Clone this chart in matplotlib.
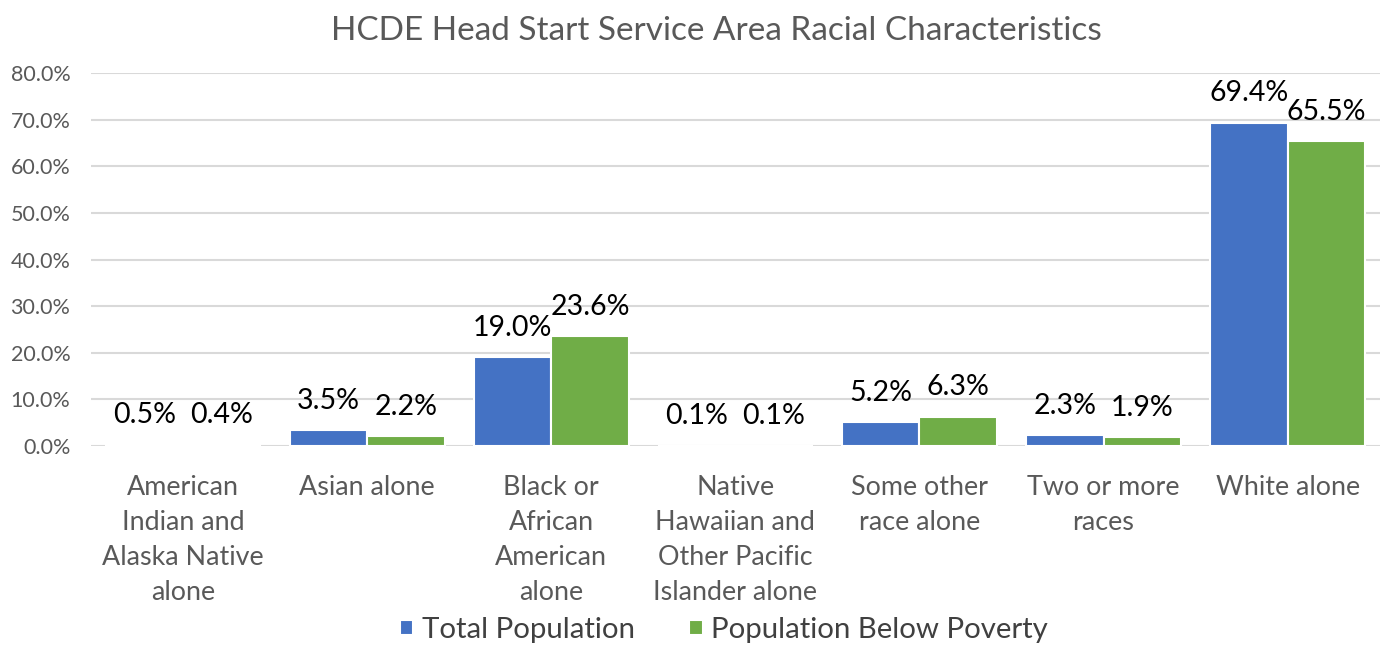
import numpy as np
import matplotlib.pyplot as plt

plt.rcParams['font.family'] = ['Lato', 'DejaVu Sans']

categories = ['American\nIndian and\nAlaska Native\nalone', 'Asian alone',
              'Black or\nAfrican\nAmerican\nalone',
              'Native\nHawaiian and\nOther Pacific\nIslander alone',
              'Some other\nrace alone', 'Two or more\nraces', 'White alone']
total_pop = [0.5, 3.5, 19.0, 0.1, 5.2, 2.3, 69.4]
below_pov = [0.4, 2.2, 23.6, 0.1, 6.3, 1.9, 65.5]
series_names = ['Total Population', 'Population Below Poverty']
yticks = [0, 10, 20, 30, 40, 50, 60, 70, 80]

BLUE = '#4472C4'
GREEN = '#70AD47'
GREY = '#595959'

fig = plt.figure(figsize=(13.81, 6.45), dpi=100, facecolor='w')
ax = fig.add_axes([0.066, 0.3085, 0.933, 0.578])

x = np.arange(len(categories))
w = 0.42
b1 = ax.bar(x - w/2, total_pop, w, color=BLUE, edgecolor='white', linewidth=1.5,
            label=series_names[0], zorder=3)
b2 = ax.bar(x + w/2, below_pov, w, color=GREEN, edgecolor='white', linewidth=1.5,
            label=series_names[1], zorder=3)

# value labels above each bar
for bars, vals in ((b1, total_pop), (b2, below_pov)):
    for r, v in zip(bars, vals):
        ax.annotate('%.1f%%' % v, (r.get_x() + r.get_width()/2, v),
                    xytext=(0, 21), textcoords='offset points',
                    ha='center', va='center', fontsize=20.5, color='black')

ax.set_xlim(-0.5, len(categories) - 0.5)
ax.set_ylim(0, 80)
ax.set_yticks(yticks)
ax.set_yticklabels(['%.1f%%' % t for t in yticks], color=GREY, fontsize=15.5)
ax.set_xticks(x)
ax.set_xticklabels(categories, color=GREY, fontsize=19.4, linespacing=1.5, va='top')
ax.tick_params(axis='both', length=0)
ax.tick_params(axis='x', pad=21)
ax.tick_params(axis='y', pad=15)
ax.grid(axis='y', color='#D9D9D9', linewidth=1.5, zorder=0)
for s in ax.spines.values():
    s.set_visible(False)

fig.suptitle('HCDE Head Start Service Area Racial Characteristics',
             x=0.519, y=0.975, fontsize=24, color=GREY)

fig.legend(handles=[b1, b2], loc='center', bbox_to_anchor=(724/1381, 1 - 630/645),
           ncol=2, frameon=False, fontsize=21.2, handlelength=0.45, handleheight=0.45,
           handletextpad=0.3, columnspacing=1.85, labelcolor='#404040')

plt.savefig('out.png', dpi=100, facecolor='w')
